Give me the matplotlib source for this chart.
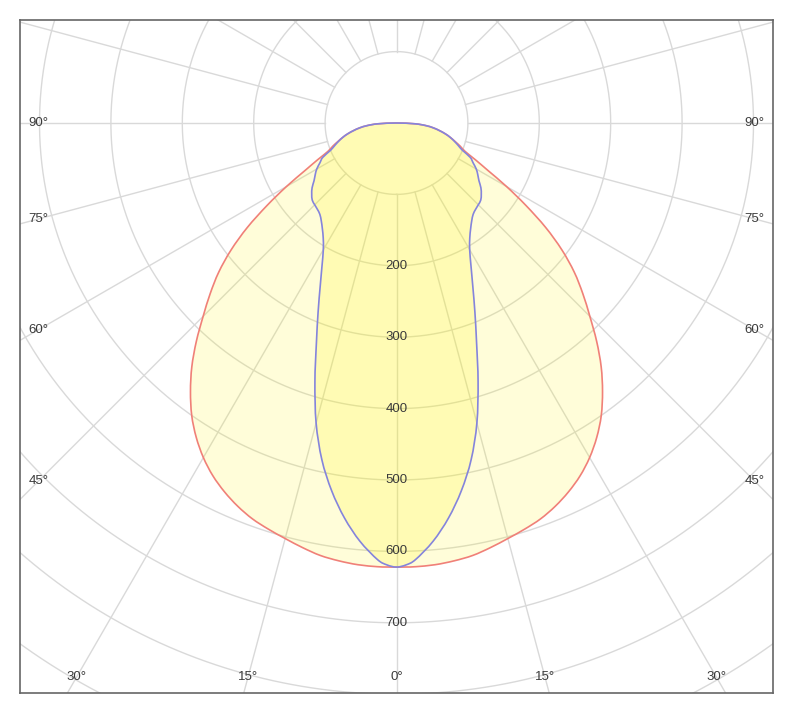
import numpy as np
import matplotlib
matplotlib.use("Agg")
import matplotlib.pyplot as plt
from matplotlib.path import Path
from matplotlib.patches import PathPatch

# Angles (degrees from nadir) and luminous intensity (cd) for two planes (symmetric)
angles = [0, 1.25, 2.5, 5, 7.5, 10, 12.5, 15, 17.5, 20, 22.5, 25, 27.5, 30, 32.5, 35,
          37.5, 40, 42.5, 45, 47.5, 50, 52.5, 55, 57.5, 60, 62.5, 65, 67.5, 70,
          72.5, 75, 77.5, 80, 82.5, 85, 87.5, 90]
wide_plane = [622, 622, 622, 621, 618.5, 615, 609, 602.5, 596.5, 590, 581, 570, 557, 541, 522, 500,
              474, 446, 415, 383, 354, 325, 292, 255, 215, 178, 145, 122, 104, 95,
              86, 78, 70, 61, 52, 41, 26, 0]
narrow_plane = [622, 619, 612, 588, 558, 523, 483, 435, 380, 328, 287, 253, 226, 205, 191, 181,
                173, 167, 164, 162, 160, 155, 149, 141, 135, 129, 121, 114, 100, 92,
                85, 78, 70, 61, 52, 41, 26, 0]

ring_values = [100, 200, 300, 400, 500, 600, 700, 800, 900, 1000]
ring_labels = [200, 300, 400, 500, 600, 700]
spoke_angles = list(range(0, 360, 15))
angle_labels_left = [90, 75, 60, 45]
angle_labels_bottom = [30, 15, 0, -15, -30]
angle_labels_right = [-90, -75, -60, -45]

W, H = 800, 709
fig = plt.figure(figsize=(W / 100, H / 100), dpi=100)
left_px, right_px, top_px, bot_px = 20, 773, 20, 692.7
ax = fig.add_axes([left_px / W, 1 - bot_px / H, (right_px - left_px) / W, (bot_px - top_px) / H])

scale = 0.714  # px per cd
cx_px, cy_px = 396.5, 123
xmin = (left_px - cx_px) / scale
xmax = (right_px - cx_px) / scale
ymax = (cy_px - top_px) / scale
ymin = -(bot_px - cy_px) / scale
ax.set_xlim(xmin, xmax)
ax.set_ylim(ymin, ymax)
ax.set_aspect('equal')
ax.set_xticks([])
ax.set_yticks([])
for s in ax.spines.values():
    s.set_color('#666666')
    s.set_linewidth(1.2)

grid_col = '#d9d9d9'
t = np.linspace(0, 2 * np.pi, 721)
for r in ring_values:
    ax.plot(r * np.sin(t), -r * np.cos(t), color=grid_col, lw=1.0, zorder=1)
for a in spoke_angles:
    ar = np.radians(a)
    ax.plot([100 * np.sin(ar), 1500 * np.sin(ar)], [-100 * np.cos(ar), -1500 * np.cos(ar)],
            color=grid_col, lw=1.0, zorder=1)


def closed_points(vals):
    ang = np.radians(np.array(angles))
    v = np.array(vals, dtype=float)
    full_a = np.concatenate([-ang[::-1], ang[1:]])
    full_v = np.concatenate([v[::-1], v[1:]])
    return np.column_stack([full_v * np.sin(full_a), -full_v * np.cos(full_a)])


def smooth_closed_path(pts):
    # Catmull-Rom through the data points, expressed as cubic Bezier segments
    p = pts[:-1]  # last point duplicates first (the origin)
    n = len(p)
    verts = [p[0]]
    codes = [Path.MOVETO]
    for i in range(n):
        p0, p1, p2, p3 = p[i - 1], p[i], p[(i + 1) % n], p[(i + 2) % n]
        c1 = p1 + (p2 - p0) / 6.0
        c2 = p2 - (p3 - p1) / 6.0
        verts += [c1, c2, p2]
        codes += [Path.CURVE4] * 3
    return Path(np.array(verts), codes)


pw = smooth_closed_path(closed_points(wide_plane))
pn = smooth_closed_path(closed_points(narrow_plane))
ax.add_patch(PathPatch(pw, facecolor='#fff500', alpha=0.15, lw=0, zorder=2))
ax.add_patch(PathPatch(pn, facecolor='#fff500', alpha=0.17, lw=0, zorder=2))
ax.add_patch(PathPatch(pw, facecolor='none', edgecolor='#f08078', lw=1.2, zorder=3))
ax.add_patch(PathPatch(pn, facecolor='none', edgecolor='#8484dc', lw=1.2, zorder=3))

font = dict(family=['Liberation Sans', 'DejaVu Sans'], fontsize=9.5, color='#3a3a3a')
for r in ring_labels:
    ax.text(0, -r, str(r), ha='center', va='center', zorder=4, **font)

inset_x = 18.5 / scale
inset_y = 15.5 / scale
lab_left = xmin + inset_x
lab_right = xmax - inset_x
lab_bot = ymin + inset_y
for a in angle_labels_left + angle_labels_right:
    ar = np.radians(a)
    xx = lab_left if a > 0 else lab_right
    rr = xx / (-np.sin(ar))
    yy = -rr * np.cos(ar)
    ax.text(xx, yy, f"{abs(a)}°", ha='center', va='center', zorder=4, **font)
for a in angle_labels_bottom:
    ar = np.radians(a)
    rr = lab_bot / (-np.cos(ar))
    xx = -rr * np.sin(ar)
    ax.text(xx, lab_bot, f"{abs(a)}°", ha='center', va='center', zorder=4, **font)

fig.savefig('out.png', dpi=100)
